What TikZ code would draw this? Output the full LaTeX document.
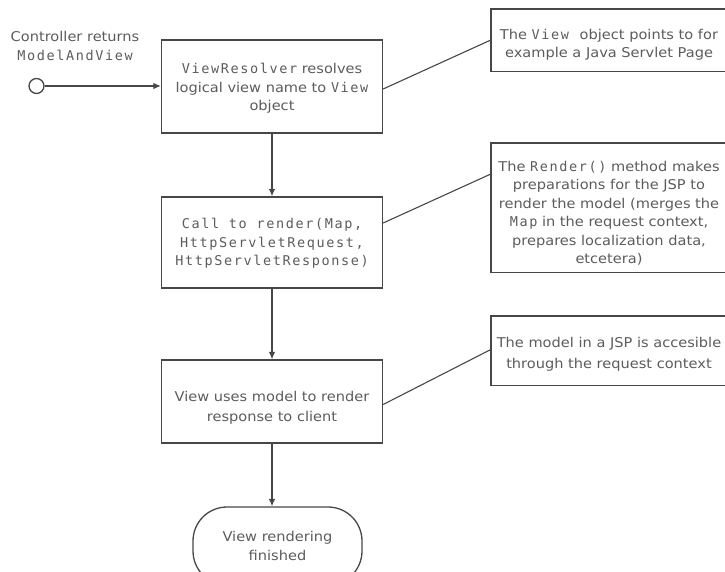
\documentclass[tikz,border=0pt]{standalone}
\usepackage{fontspec}
\setmainfont[FakeStretch=1.08]{DejaVu Sans}
\newfontfamily\codefont[LetterSpace=12]{DejaVu Sans Mono}
\usetikzlibrary{arrows.meta}

\newcommand\code[1]{{\codefont #1}}

\definecolor{linegray}{HTML}{474747}
\definecolor{textgray}{HTML}{5C5C5C}

\tikzset{
  every node/.style={text=textgray, font=\fontsize{13.5}{18.5}\selectfont},
  procbox/.style={draw=linegray, line width=1.3pt, minimum width=221pt,
    align=center, inner sep=0pt},
  % side notes run off the right edge, so their outline is drawn open there
  notebox/.style={minimum width=236pt, align=center, inner sep=0pt},
  noteline/.style={draw=linegray, line width=1.4pt},
  termbox/.style={draw=linegray, line width=1.3pt, rounded corners=34pt,
    minimum width=169pt, minimum height=78pt, align=center, inner sep=0pt},
  startdot/.style={circle, draw=linegray, line width=1.3pt, fill=white,
    minimum size=15pt, inner sep=0pt},
  flow/.style={draw=linegray, line width=1.2pt, -{Latex[length=7.5pt,width=6.5pt]}},
  link/.style={draw=linegray, line width=1.1pt},
}

\begin{document}
\begin{tikzpicture}[x=1pt, y=-1pt]
  \useasboundingbox (0,0) rectangle (725,571);

  % start marker and its caption
  \node[startdot] (start) at (36.5,86) {};
  \node[align=center] (caption) at (75,46) {Controller returns\\\code{ModelAndView}};

  % main flow
  \node[procbox, minimum height=93pt,
    label={[align=center, yshift=-2pt]center:\code{ViewResolver} resolves\\logical view name to \code{View}\\object}]
    (resolve) at (272,86.5) {};
  \node[procbox, minimum height=91pt,
    label={[align=center, yshift=-1pt]center:\code{Call to render(Map,}\\\code{HttpServletRequest,}\\\code{HttpServletResponse)}}]
    (render) at (272,242.5) {};
  \node[procbox, minimum height=83pt,
    label={[align=center, yshift=-6pt, font=\fontsize{13.5}{20}\selectfont]center:View uses model to render\\response to client}]
    (use) at (272,401.5) {};
  \node[termbox] (done) at (277.5,546) {View rendering\\finished};

  % side notes
  \node[notebox, minimum height=62pt,
    label={[align=center, yshift=-4.5pt, font=\fontsize{13.5}{18}\selectfont]center:The \code{View}\hspace{6pt} object points to for\\example a Java Servlet Page}]
    (note1) at (609,40) {};
  \node[notebox, minimum height=129pt,
    label={[align=center, yshift=-6pt]center:The \code{Render()} method makes\\preparations for the JSP to\\render the model (merges the\\\code{Map} in the request context,\\prepares localization data,\\etcetera)}]
    (note2) at (609,207.5) {};
  \node[notebox, minimum height=69pt,
    label={[align=center, yshift=-4pt, font=\fontsize{13.5}{21.5}\selectfont]center:The model in a JSP is accesible\\through the request context}]
    (note3) at (609,350.5) {};

  \foreach \n in {note1, note2, note3}
    \draw[noteline] ([xshift=14pt]\n.north east) -| (\n.south west)
      -- ([xshift=14pt]\n.south east);

  % connectors
  \draw[flow] (start) -- (start -| resolve.west);
  \draw[flow] (resolve) -- (render);
  \draw[flow] (render) -- (use);
  \draw[flow] (use.south) -- (use.south |- done.north);

  \draw[link] ([yshift=-2.5pt]resolve.east) -- (note1.west);
  \draw[link] ([yshift=19.5pt]render.east) -- ([yshift=33.5pt]note2.west);
  \draw[link] ([yshift=-3pt]use.east) -- ([yshift=1pt]note3.west);
\end{tikzpicture}
\end{document}
